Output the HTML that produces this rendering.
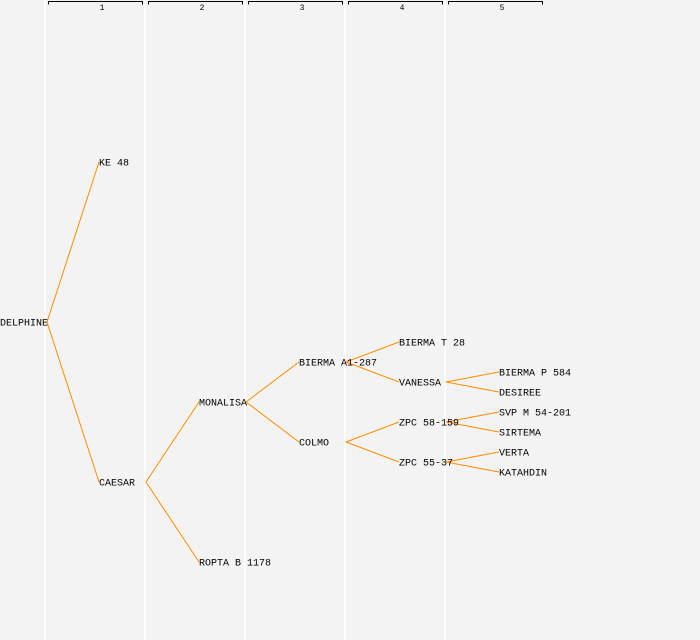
<!DOCTYPE html>
<html><head><style>
html,body{margin:0;padding:0;background:#f3f3f3;}
svg{display:block;}
text{font-family:"Liberation Mono","DejaVu Sans Mono",monospace;font-size:10px;fill:#000;}
</style></head><body>
<svg width="700" height="640" xmlns="http://www.w3.org/2000/svg">
<rect width="700" height="640" fill="#f3f3f3"/>
<g stroke="#ffffff" stroke-width="1.5">
<line x1="45" y1="0" x2="45" y2="640"/><line x1="145" y1="0" x2="145" y2="640"/>
<line x1="245" y1="0" x2="245" y2="640"/><line x1="345" y1="0" x2="345" y2="640"/>
<line x1="445" y1="0" x2="445" y2="640"/>
</g>
<g stroke="#000" stroke-width="1" fill="none">
<path d="M48.5,4.5V1.5H142.5V4.5"/><path d="M148.5,4.5V1.5H242.5V4.5"/>
<path d="M248.5,4.5V1.5H342.5V4.5"/><path d="M348.5,4.5V1.5H442.5V4.5"/>
<path d="M448.5,4.5V1.5H542.5V4.5"/>
</g>
<g text-anchor="middle">
<text x="102" y="10" style="font-size:8px">1</text><text x="202" y="10" style="font-size:8px">2</text>
<text x="302" y="10" style="font-size:8px">3</text><text x="402" y="10" style="font-size:8px">4</text>
<text x="502" y="10" style="font-size:8px">5</text>
</g>
<g stroke="#ff8c00" stroke-width="1" fill="none">
<path d="M47,322L99,162M47,322L99,482"/>
<path d="M146,482L199,402M146,482L199,562"/>
<path d="M246,402L299,362M246,402L299,442"/>
<path d="M346,362L399,342M346,362L399,382"/>
<path d="M346,442L399,422M346,442L399,462"/>
<path d="M446,382L499,372M446,382L499,392"/>
<path d="M446,422L499,412M446,422L499,432"/>
<path d="M446,462L499,452M446,462L499,472"/>
</g>
<g dominant-baseline="central" transform="translate(0,2)">
<text x="0" y="322">DELPHINE</text>
<text x="99" y="162">KE 48</text>
<text x="99" y="482">CAESAR</text>
<text x="199" y="402">MONALISA</text>
<text x="199" y="562">ROPTA B 1178</text>
<text x="299" y="362">BIERMA A1-287</text>
<text x="299" y="442">COLMO</text>
<text x="399" y="342">BIERMA T 28</text>
<text x="399" y="382">VANESSA</text>
<text x="399" y="422">ZPC 58-159</text>
<text x="399" y="462">ZPC 55-37</text>
<text x="499" y="372">BIERMA P 584</text>
<text x="499" y="392">DESIREE</text>
<text x="499" y="412">SVP M 54-201</text>
<text x="499" y="432">SIRTEMA</text>
<text x="499" y="452">VERTA</text>
<text x="499" y="472">KATAHDIN</text>
</g>
</svg>
</body></html>
